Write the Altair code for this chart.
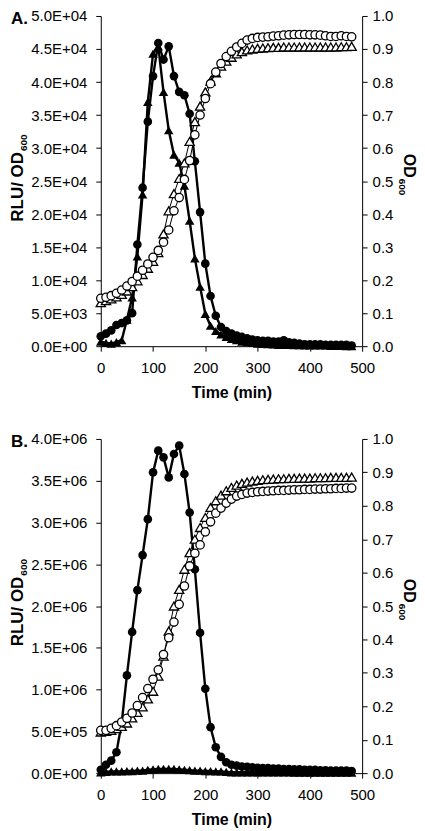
import altair as alt
import pandas as pd

FONT = "Liberation Sans"

TIME = [0, 10, 20, 30, 40, 50, 60, 70, 80, 90,
        100, 110, 120, 130, 140, 150, 160, 170, 180, 190,
        200, 210, 220, 230, 240, 250, 260, 270, 280, 290,
        300, 310, 320, 330, 340, 350, 360, 370, 380, 390,
        400, 410, 420, 430, 440, 450, 460, 470, 480]

# Panel A
A_RLU_CIRCLE = [1500, 1900, 2400, 3200, 3500, 3900, 5000, 15400, 24000, 34000,
                40900, 45900, 43400, 45400, 40900, 38500, 38000, 35200, 28000, 20300,
                12500, 7600, 4600, 2900, 2300, 1900, 1600, 1400, 1200, 1000,
                900, 800, 800, 700, 700, 900, 600, 500, 400, 300,
                300, 300, 300, 200, 200, 200, 200, 200, 100]
A_RLU_TRIANGLE = [700, 500, 400, 600, 900, 4000, 7400, 13600, 23000, 37000,
                  44300, 45400, 38500, 32700, 29000, 27800, 24300, 19000, 13300, 9000,
                  4900, 3100, 2300, 1800, 1400, 1100, 900, 700, 600, 500,
                  400, 350, 300, 250, 200, 200, 200, 150, 150, 100,
                  100, 100, 100, 100, 50, 50, 50, 0, 0]
A_OD_CIRCLE = [0.145, 0.148, 0.153, 0.160, 0.170, 0.182, 0.196, 0.212, 0.230, 0.249,
               0.269, 0.290, 0.315, 0.352, 0.410, 0.450, 0.505, 0.562, 0.640, 0.700,
               0.750, 0.795, 0.830, 0.856, 0.877, 0.893, 0.906, 0.917, 0.927, 0.932,
               0.935, 0.936, 0.937, 0.939, 0.940, 0.942, 0.943, 0.944, 0.944, 0.944,
               0.943, 0.943, 0.942, 0.940, 0.938, 0.938, 0.940, 0.938, 0.937]
A_OD_TRIANGLE = [0.132, 0.138, 0.143, 0.149, 0.157, 0.167, 0.180, 0.198, 0.217, 0.236,
                 0.257, 0.283, 0.340, 0.410, 0.462, 0.508, 0.555, 0.620, 0.680, 0.727,
                 0.770, 0.803, 0.828, 0.848, 0.863, 0.875, 0.885, 0.892, 0.897, 0.900,
                 0.902, 0.903, 0.904, 0.905, 0.905, 0.906, 0.906, 0.906, 0.906, 0.906,
                 0.906, 0.906, 0.906, 0.906, 0.906, 0.906, 0.907, 0.907, 0.908]

# Panel B
B_RLU_CIRCLE = [40000, 100000, 150000, 250000, 600000, 1170000, 1690000, 2190000, 2610000, 3040000,
                3600000, 3860000, 3780000, 3540000, 3820000, 3920000, 3580000, 3120000, 2440000, 1680000,
                1010000, 550000, 310000, 195000, 130000, 100000, 90000, 80000, 75000, 70000,
                65000, 60000, 60000, 55000, 55000, 50000, 50000, 45000, 45000, 40000,
                40000, 40000, 35000, 35000, 30000, 30000, 30000, 30000, 25000]
B_RLU_TRIANGLE = [10000, 15000, 20000, 20000, 20000, 25000, 25000, 30000, 30000, 40000,
                  45000, 50000, 50000, 50000, 50000, 45000, 40000, 35000, 30000, 30000,
                  25000, 25000, 20000, 20000, 15000, 10000, 10000, 10000, 10000, 10000,
                  10000, 10000, 10000, 10000, 10000, 10000, 10000, 5000, 5000, 5000,
                  5000, 5000, 5000, 5000, 5000, 5000, 5000, 5000, 5000]
B_OD_CIRCLE = [0.128, 0.128, 0.134, 0.142, 0.153, 0.164, 0.180, 0.202, 0.226, 0.253,
               0.281, 0.309, 0.355, 0.405, 0.452, 0.505, 0.560, 0.620, 0.658, 0.683,
               0.722, 0.752, 0.778, 0.793, 0.808, 0.820, 0.829, 0.834, 0.838, 0.840,
               0.842, 0.843, 0.844, 0.845, 0.846, 0.846, 0.847, 0.848, 0.848, 0.849,
               0.849, 0.850, 0.850, 0.851, 0.851, 0.852, 0.852, 0.853, 0.853]
B_OD_TRIANGLE = [0.123, 0.125, 0.128, 0.133, 0.140, 0.150, 0.165, 0.182, 0.198, 0.222,
                 0.245, 0.290, 0.350, 0.425, 0.500, 0.550, 0.610, 0.660, 0.700, 0.735,
                 0.765, 0.795, 0.815, 0.832, 0.845, 0.855, 0.862, 0.867, 0.871, 0.874,
                 0.876, 0.878, 0.879, 0.880, 0.881, 0.881, 0.882, 0.882, 0.883, 0.883,
                 0.883, 0.884, 0.884, 0.884, 0.885, 0.885, 0.885, 0.885, 0.886]

X_TICKS = [0, 100, 200, 300, 400, 500]
OD_TICKS = [0.0, 0.1, 0.2, 0.3, 0.4, 0.5, 0.6, 0.7, 0.8, 0.9, 1.0]
A_RLU_TICKS = [0, 5000, 10000, 15000, 20000, 25000, 30000, 35000, 40000, 45000, 50000]
B_RLU_TICKS = [0, 500000, 1000000, 1500000, 2000000, 2500000, 3000000, 3500000, 4000000]

LEFT_TITLE = "RLU/ OD"
RIGHT_TITLE = "OD"
SUBSCRIPT = "600"

EXP_LABEL = "replace(format(datum.value, '.1e'), 'e+', 'E+0')"


def text_mark(txt, size, angle, align, x, y):
    return alt.Chart(pd.DataFrame({"s": [txt]})).mark_text(
        font=FONT, fontSize=size, fontWeight="bold", angle=angle, align=align,
        baseline="alphabetic", color="black"
    ).encode(text="s:N", x=alt.value(x), y=alt.value(y))


def panel(letter, rc, rt, oc, ot, rlu_ticks, width, height):
    df = pd.DataFrame({"t": TIME, "rc": rc, "rt": rt, "oc": oc, "ot": ot})
    base = alt.Chart(df)
    x = alt.X("t:Q", scale=alt.Scale(domain=[0, 500], nice=False, zero=False),
              axis=alt.Axis(values=X_TICKS, title="Time (min)", format="d",
                            tickSize=5, labelPadding=9, titlePadding=9,
                            labelFlush=False))
    left_axis = alt.Axis(values=rlu_ticks, labelExpr=EXP_LABEL, title=None,
                         tickSize=5, labelPadding=9)
    right_axis = alt.Axis(values=OD_TICKS, format=".1f", orient="right", title=None,
                          tickSize=5, labelPadding=5)

    def yl(f):
        return alt.Y(f + ":Q", scale=alt.Scale(domain=[rlu_ticks[0], rlu_ticks[-1]], nice=False),
                     axis=left_axis)

    def yr(f):
        return alt.Y(f + ":Q", scale=alt.Scale(domain=[0, 1], nice=False), axis=right_axis)

    line_f = dict(color="black", strokeWidth=2.4)
    left = alt.layer(
        base.mark_line(**line_f).encode(x=x, y=yl("rt")),
        base.mark_line(**line_f).encode(x=x, y=yl("rc")),
        base.mark_point(shape="triangle-up", filled=True, color="black", size=90, opacity=1).encode(x=x, y=yl("rt")),
        base.mark_point(shape="circle", filled=True, color="black", size=75, opacity=1).encode(x=x, y=yl("rc")),
    )
    line_o = dict(color="black", strokeWidth=1)
    right = alt.layer(
        base.mark_line(**line_o).encode(x=x, y=yr("ot")),
        base.mark_line(**line_o).encode(x=x, y=yr("oc")),
        base.mark_point(shape="triangle-up", filled=True, fill="white", stroke="black",
                        strokeWidth=1.3, size=85, opacity=1).encode(x=x, y=yr("ot")),
        base.mark_point(shape="circle", filled=True, fill="white", stroke="black",
                        strokeWidth=1.3, size=70, opacity=1).encode(x=x, y=yr("oc")),
    )
    yc_left = 0.412 * height
    yc_right = 0.49 * height
    texts = [
        text_mark(letter, 17, 0, "left", -90, 8),
        text_mark(LEFT_TITLE, 17, 270, "right", -78, yc_left),
        text_mark(SUBSCRIPT, 10, 270, "left", -74, yc_left - 1),
        text_mark(RIGHT_TITLE, 16, 90, "right", width + 42, yc_right),
        text_mark(SUBSCRIPT, 10, 90, "left", width + 37, yc_right + 1),
    ]
    return alt.layer(left, right, *texts).resolve_scale(y="independent").properties(
        width=width, height=height)


pa = panel("A.", A_RLU_CIRCLE, A_RLU_TRIANGLE, A_OD_CIRCLE, A_OD_TRIANGLE, A_RLU_TICKS, 262, 331)
pb = panel("B.", B_RLU_CIRCLE, B_RLU_TRIANGLE, B_OD_CIRCLE, B_OD_TRIANGLE, B_RLU_TICKS, 262, 335)

chart = alt.vconcat(pa, pb, spacing=32).properties(padding=0, background="white").configure_view(
    stroke=None
).configure_axis(
    labelFont=FONT, titleFont=FONT, labelFontSize=15, titleFontSize=16, titleFontWeight="bold",
    labelColor="black", titleColor="black", domainColor="black", tickColor="black",
    domainWidth=1, tickWidth=1, grid=False
)

chart.save("out.html", embed_options={"renderer": "svg", "actions": False})
